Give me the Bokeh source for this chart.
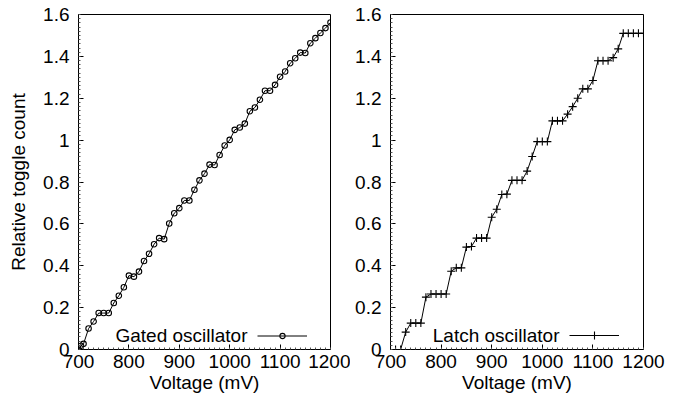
from bokeh.plotting import figure
from bokeh.layouts import row
from bokeh.models import Range1d, FixedTicker, Legend, LegendItem, Label
from bokeh.core.properties import value
from bokeh.embed import file_html
from bokeh.resources import INLINE

# ---- data ----
voltage_gated = [700, 705, 710, 720, 730, 740, 750, 760, 770, 780, 790, 800, 810, 820, 830,
                 840, 850, 860, 870, 880, 890, 900, 910, 920, 930, 940, 950, 960, 970, 980,
                 990, 1000, 1010, 1020, 1030, 1040, 1050, 1060, 1070, 1080, 1090, 1100, 1110,
                 1120, 1130, 1140, 1150, 1160, 1170, 1180, 1190, 1200]
gated = [0.0, 0.018, 0.027, 0.100, 0.134, 0.174, 0.174, 0.174, 0.222, 0.257, 0.297, 0.353,
         0.348, 0.372, 0.423, 0.457, 0.503, 0.532, 0.527, 0.602, 0.651, 0.675, 0.712, 0.712,
         0.763, 0.808, 0.840, 0.883, 0.881, 0.929, 0.974, 1.001, 1.049, 1.060, 1.079, 1.138,
         1.156, 1.193, 1.236, 1.236, 1.264, 1.303, 1.328, 1.367, 1.391, 1.418, 1.416, 1.463,
         1.487, 1.512, 1.535, 1.562]

voltage_latch = [700, 710, 720, 730, 740, 750, 760, 770, 780, 790, 800, 810, 820, 830, 840,
                 850, 860, 870, 880, 890, 900, 910, 920, 930, 940, 950, 960, 970, 980, 990,
                 1000, 1010, 1020, 1030, 1040, 1050, 1060, 1070, 1080, 1090, 1100, 1110, 1120,
                 1130, 1140, 1150, 1160, 1170, 1180, 1190, 1200]
latch = [0.0, 0.0, 0.0, 0.083, 0.126, 0.126, 0.126, 0.250, 0.265, 0.265, 0.265, 0.265,
         0.374, 0.390, 0.390, 0.489, 0.492, 0.532, 0.532, 0.532, 0.632, 0.670, 0.740, 0.742,
         0.808, 0.808, 0.808, 0.852, 0.922, 0.993, 0.993, 0.993, 1.092, 1.092, 1.092, 1.124,
         1.160, 1.200, 1.245, 1.245, 1.285, 1.379, 1.379, 1.379, 1.394, 1.436, 1.510, 1.510,
         1.510, 1.510, 1.510]

x_ticks = [700, 800, 900, 1000, 1100, 1200]
x_tick_labels = ["700", "800", "900", "1000", "1100", "1200"]
y_ticks = [0, 0.2, 0.4, 0.6, 0.8, 1, 1.2, 1.4, 1.6]
y_tick_labels = ["0", "0.2", "0.4", "0.6", "0.8", "1", "1.2", "1.4", "1.6"]
x_minor = [700 + 10 * i for i in range(51)]
y_minor = [round(0.02 * i, 2) for i in range(81)]

x_title = "Voltage (mV)"
y_title = "Relative toggle count"
gated_name = "Gated oscillator"
latch_name = "Latch oscillator"

FONT = "Liberation Sans"
FS = "19px"


def make_panel(xs, ys, marker, msize, leg_h, name, ylabel, width, left, right):
    p = figure(width=width, height=401, x_range=Range1d(700, 1200), y_range=Range1d(0, 1.6),
               output_backend="svg", toolbar_location=None,
               min_border_left=left, min_border_right=right,
               min_border_top=14, min_border_bottom=52)
    p.xgrid.visible = False
    p.ygrid.visible = False
    p.outline_line_color = "black"
    p.outline_line_alpha = 1.0
    p.outline_line_width = 1
    p.background_fill_color = "white"
    p.border_fill_color = "white"

    r_line = p.line(xs, ys, line_color="black", line_width=1)
    r_mark = p.scatter(xs, ys, marker=marker, size=msize, line_color="black",
                       fill_color=None, line_width=1.1)

    p.xaxis.ticker = FixedTicker(ticks=x_ticks, minor_ticks=x_minor)
    p.xaxis.major_label_overrides = dict(zip(x_ticks, x_tick_labels))
    p.yaxis.ticker = FixedTicker(ticks=y_ticks, minor_ticks=y_minor)
    p.yaxis.major_label_overrides = dict(zip(y_ticks, y_tick_labels))

    for ax in (p.xaxis[0], p.yaxis[0]):
        ax.axis_line_color = "black"
        ax.major_tick_in = 5
        ax.major_tick_out = 0
        ax.minor_tick_in = 2
        ax.minor_tick_out = 0
        ax.major_tick_line_color = "black"
        ax.minor_tick_line_color = "#555555"
        ax.major_label_text_font = FONT
        ax.major_label_text_font_size = FS
        ax.major_label_text_color = "black"
        ax.axis_label_text_font = FONT
        ax.axis_label_text_font_size = FS
        ax.axis_label_text_font_style = "normal"
        ax.axis_label_text_color = "black"

    p.xaxis.axis_label = x_title
    p.xaxis.major_label_standoff = 5
    p.xaxis.axis_label_standoff = 1
    p.yaxis.major_label_standoff = 9
    if ylabel:
        p.yaxis.axis_label = y_title
        p.yaxis.axis_label_standoff = 11

    leg = Legend(items=[LegendItem(label=value(""), renderers=[r_line, r_mark])],
                 location=(179, 14 - leg_h / 2), glyph_width=50, glyph_height=leg_h,
                 padding=0, margin=0, spacing=0, label_standoff=0, label_width=0,
                 label_height=leg_h, background_fill_alpha=0, border_line_alpha=0)
    p.add_layout(leg)

    p.add_layout(Label(x=169, y=14, x_units="screen", y_units="screen", text=name,
                       text_align="right", text_baseline="middle",
                       text_font=FONT, text_font_size=FS, text_color="black"))
    return p


p1 = make_panel(voltage_gated, gated, "circle", 5.5, 13, gated_name, True, 350, 78, 20)
p2 = make_panel(voltage_latch, latch, "cross", 8, 20, latch_name, False, 316, 40, 23)

layout = row(p1, p2)
open("out.html", "w").write(file_html(layout, INLINE))
